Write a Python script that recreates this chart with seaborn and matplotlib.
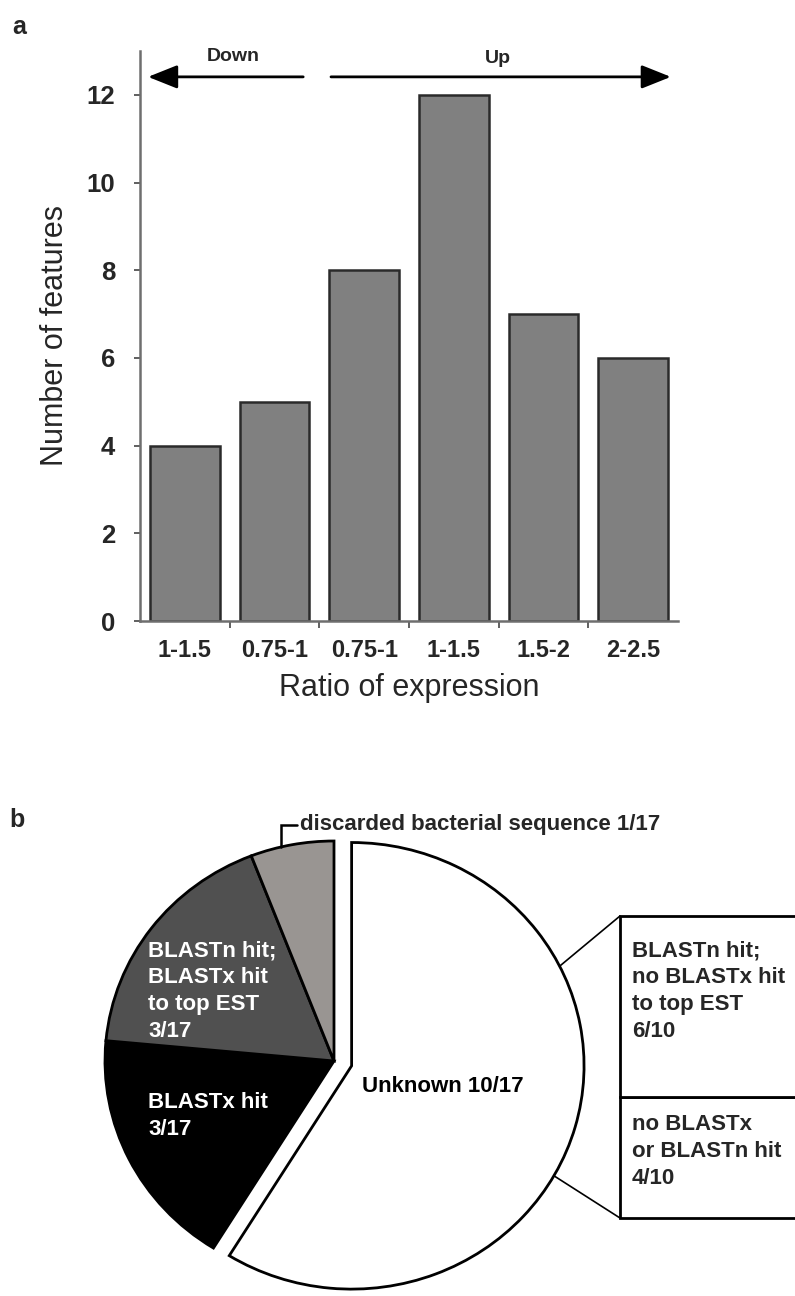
import numpy as np
import pandas as pd
import matplotlib
matplotlib.use("Agg")
import matplotlib.pyplot as plt
from matplotlib.patches import ConnectionPatch
import seaborn as sns

# panel a: expression ratio histogram
ratio_bins = ['1-1.5', '0.75-1', '0.75-1', '1-1.5', '1.5-2', '2-2.5']
n_features = [4, 5, 8, 12, 7, 6]
direction_labels = ['Down', 'Up']

# panel b: annotation breakdown
pie_labels = ['Unknown 10/17', 'BLASTx hit\n3/17',
              'BLASTn hit;\nBLASTx hit\nto top EST\n3/17',
              'discarded bacterial sequence 1/17']
pie_counts = [10, 3, 3, 1]
pie_colors = ['white', 'black', '#505050', '#999592']
unknown_labels = ['no BLASTx\nor BLASTn hit\n4/10',
                  'BLASTn hit;\nno BLASTx hit\nto top EST\n6/10']
unknown_counts = [4, 6]

W, H = 795, 1296


def fx(px):
    return px / W


def fy(py):
    return 1 - py / H


sns.set_theme(style="ticks")
plt.rcParams['font.family'] = ['Liberation Sans', 'DejaVu Sans']

fig = plt.figure(figsize=(W / 100, H / 100), dpi=100)

# ---------------- panel a ----------------
ax = fig.add_axes([fx(140), fy(621), (678 - 140) / W, (621 - 51) / H])
df = pd.DataFrame({'pos': np.arange(len(n_features)), 'count': n_features})
sns.barplot(data=df, x='pos', y='count', color='#808080', saturation=1,
            edgecolor='#2a2a2a', linewidth=1.8, width=0.78, ax=ax)
ax.set_xlim(-0.5, len(n_features) - 0.5)
ax.set_ylim(0, 13)
ax.set_yticks(range(0, 13, 2))
ax.set_xticks(range(len(ratio_bins)))
ax.set_xticklabels(ratio_bins, fontsize=17, fontweight='bold')
ax.set_xticks(np.arange(0.5, len(ratio_bins) - 1), minor=True)
ax.tick_params(axis='x', which='major', length=0, pad=13)
ax.tick_params(axis='x', which='minor', length=5, width=1.2, color='#444444', direction='out')
ax.tick_params(axis='y', length=4, width=1.2, color='#444444', pad=14, labelsize=18.5)
for lab in ax.get_yticklabels():
    lab.set_fontweight('bold')
ax.set_xlabel('Ratio of expression', fontsize=22, labelpad=8)
ax.set_ylabel('Number of features', fontsize=22, labelpad=12)
sns.despine(ax=ax)
for s in ['left', 'bottom']:
    ax.spines[s].set_color('#6e6e6e')
    ax.spines[s].set_linewidth(1.8)

arrow_y = 12.41
head = dict(arrowstyle='-|>,head_length=0.45,head_width=0.18', mutation_scale=40,
            lw=2, color='black', shrinkA=0, shrinkB=0)
ax.annotate('', xy=(-0.41, arrow_y), xytext=(1.32, arrow_y), arrowprops=head,
            annotation_clip=False)
ax.annotate('', xy=(5.42, arrow_y), xytext=(1.63, arrow_y), arrowprops=head,
            annotation_clip=False)
ax.text(0.54, 12.87, direction_labels[0], ha='center', va='center', fontsize=14,
        fontweight='bold', clip_on=False)
ax.text(3.49, 12.82, direction_labels[1], ha='center', va='center', fontsize=14,
        fontweight='bold', clip_on=False)

fig.text(fx(19), fy(27), 'a', fontsize=18, fontweight='bold', ha='center', va='center')
fig.text(fx(17), fy(820), 'b', fontsize=18, fontweight='bold', ha='center', va='center')

# ---------------- panel b: pie ----------------
rx, ry = 229, 220
cx, cy = 334, 1061
axp = fig.add_axes([fx(80), 0, 520 / W, 496 / H])
wedges, _ = axp.pie(pie_counts, colors=pie_colors, startangle=90, counterclock=False,
                    explode=[0.08, 0, 0, 0], radius=1,
                    wedgeprops=dict(edgecolor='black', linewidth=2))
for w in wedges:
    w.set_clip_on(False)
wedges[0].set_radius(1.015)
axp.set_aspect('auto')
axp.set_xlim((80 - cx) / rx, (600 - cx) / rx)
axp.set_ylim((cy - 1296) / ry, (cy - 800) / ry)
axp.axis('off')

# labels inside wedges
axp.text(0.476, -0.118, pie_labels[0], ha='center', va='center', fontsize=16,
         fontweight='bold', color='black')
axp.text(-0.812, -0.141, pie_labels[1], ha='left', va='top', fontsize=16,
         fontweight='bold', color='white', linespacing=1.38)
axp.text(-0.812, 0.55, pie_labels[2], ha='left', va='top', fontsize=16,
         fontweight='bold', color='white', linespacing=1.38)

# leader for the small wedge
dw = wedges[3]
ang = np.deg2rad(dw.theta1 + 0.63 * (dw.theta2 - dw.theta1))
px_, py_ = np.cos(ang) * dw.r, np.sin(ang) * dw.r
ty = 1.073
axp.plot([px_, px_, px_ + 0.07], [py_, ty, ty], color='black', lw=1.8,
         clip_on=False, solid_joinstyle='miter')
axp.text(px_ + 0.083, ty, pie_labels[3], ha='left', va='center', fontsize=16,
         fontweight='bold', clip_on=False)

# ---------------- panel b: breakdown of unknown ----------------
axb = fig.add_axes([fx(620), fy(1218), 350 / W, 302 / H])
bottom = 0
for val in unknown_counts:
    axb.bar(0, val, bottom=bottom, width=1, align='edge', color='white',
            edgecolor='black', linewidth=2, clip_on=False)
    bottom += val
axb.set_xlim(0, 1)
axb.set_ylim(0, sum(unknown_counts))
axb.axis('off')
axb.text(0.034, 3.44, unknown_labels[0], ha='left', va='top', fontsize=16,
         fontweight='bold', linespacing=1.38)
axb.text(0.034, 9.2, unknown_labels[1], ha='left', va='top', fontsize=16,
         fontweight='bold', linespacing=1.38)

# connectors from the exploded wedge to the box
uw = wedges[0]
for theta, yb in [(26.5, sum(unknown_counts)), (-29.5, 0)]:
    t = np.deg2rad(theta)
    xa = uw.center[0] + uw.r * np.cos(t)
    ya = uw.center[1] + uw.r * np.sin(t)
    con = ConnectionPatch(xyA=(xa, ya), coordsA=axp.transData,
                          xyB=(0, yb), coordsB=axb.transData,
                          color='black', lw=1.2)
    fig.add_artist(con)

fig.savefig('out.png', dpi=100)
